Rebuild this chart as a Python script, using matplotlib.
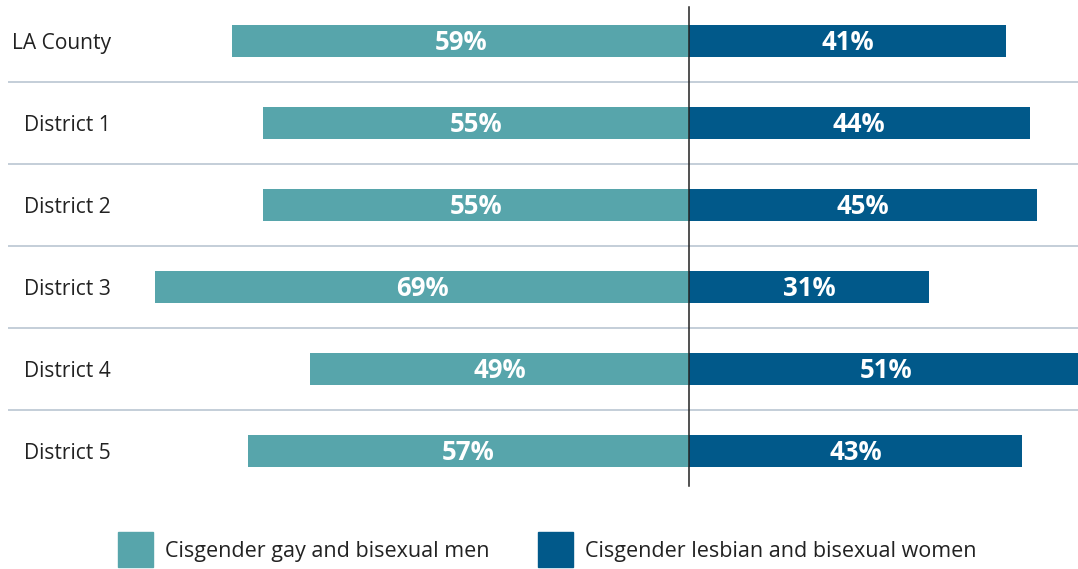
import matplotlib
matplotlib.use("Agg")
import matplotlib.pyplot as plt
from matplotlib.patches import Rectangle

categories = ["LA County", "District 1", "District 2", "District 3", "District 4", "District 5"]
men = [59, 55, 55, 69, 49, 57]
women = [41, 44, 45, 31, 51, 43]
series_names = ["Cisgender gay and bisexual men", "Cisgender lesbian and bisexual women"]
colors = ["#57a5ab", "#01598a"]

plt.rcParams['font.family'] = ['Open Sans', 'DejaVu Sans']

W, H = 1078, 569
fig = plt.figure(figsize=(W / 100, H / 100), dpi=100)

# layout in pixels
ax_left_px, ax_right_px = 8, 1078
ax_top_px, ax_bot_px = 0, 500
center_px = 689
px_per_pct = 7.74
row_px = 82

ax = fig.add_axes([ax_left_px / W, 1 - ax_bot_px / H,
                   (ax_right_px - ax_left_px) / W, (ax_bot_px - ax_top_px) / H])
ax.set_xlim(-(center_px - ax_left_px) / px_per_pct, (ax_right_px - center_px) / px_per_pct)
n = len(categories)
ax.set_ylim(-0.5 + (ax_bot_px - ax_top_px) / row_px, -0.5)
ax.axis('off')

ys = list(range(n))
bh = 32 / row_px
ax.barh(ys, [-m for m in men], height=bh, color=colors[0], zorder=2)
ax.barh(ys, women, height=bh, color=colors[1], zorder=2)

for y, m, w in zip(ys, men, women):
    ax.text(-m / 2, y + 0.015, f"{m}%", ha='center', va='center', color='white',
            fontsize=18.5, fontweight='bold', zorder=4)
    ax.text(w / 2, y + 0.015, f"{w}%", ha='center', va='center', color='white',
            fontsize=18.5, fontweight='bold', zorder=4)
    ax.annotate(categories[y], xy=(111, y + 0.025), xycoords=('figure pixels', 'data'),
                ha='right', va='center', fontsize=15.1, color='#222222')

for y in range(n - 1):
    ax.axhline(y + 0.5, color='#bfcad6', lw=1.3, zorder=1)

top_y = -0.5 + 7 / row_px
bot_y = -0.5 + 486 / row_px
ax.plot([0, 0], [top_y, bot_y], color='#222222', lw=1.1, zorder=5, clip_on=False)

# legend
sq = 35
leg_x = [118, 538]
leg_top = 532
for lx, name, c in zip(leg_x, series_names, colors):
    fig.patches.append(Rectangle((lx / W, 1 - (leg_top + sq) / H), sq / W, sq / H,
                                 transform=fig.transFigure, color=c))
    fig.text((lx + sq + 12) / W, 1 - (leg_top + 19) / H, name, ha='left', va='center',
             fontsize=15.5, color='#222222')

fig.savefig("out.png", dpi=100)
